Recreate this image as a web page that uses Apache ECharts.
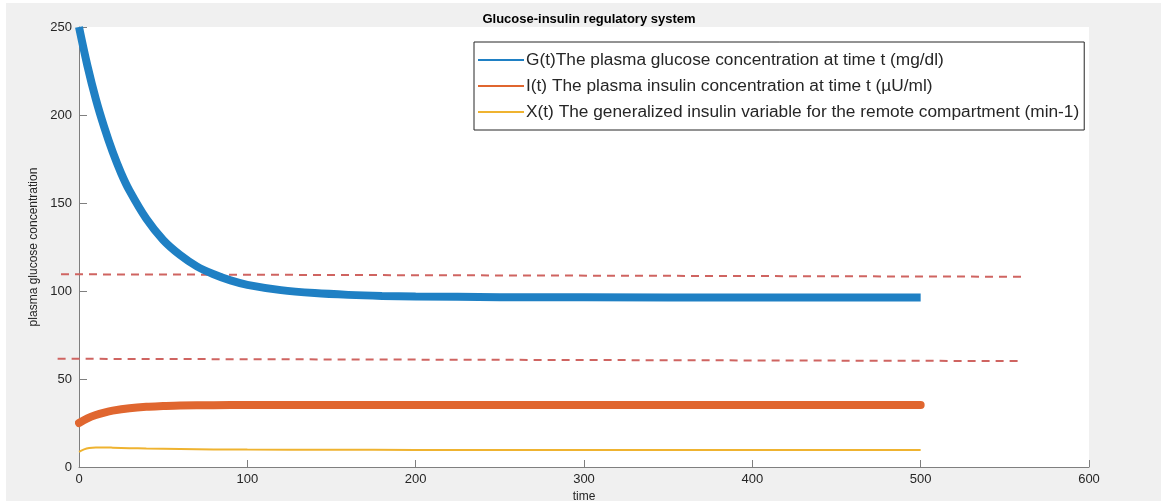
<!DOCTYPE html>
<html>
<head>
<meta charset="utf-8">
<script src="https://cdn.jsdelivr.net/npm/echarts@6/dist/echarts.min.js"></script>
<style>
  html, body { margin: 0; padding: 0; background: #ffffff; }
  #frame { position: absolute; left: 6px; top: 3px; width: 1155px; height: 498px; background: #f0f0f0; }
  #chart { position: absolute; left: -6px; top: -3px; width: 1161px; height: 501px; }
</style>
</head>
<body>
<div id="frame"><div id="chart"></div></div>
<script>
// Simulated glucose-insulin model output (minutes)
const glucoseTime = [0, 5, 10, 15, 20, 25, 30, 40, 50, 60, 70, 80, 90, 100, 120, 140, 160, 180, 200, 250, 300, 400, 500];
const glucose     = [250, 228, 209, 193, 179, 167, 157, 141, 129, 120.5, 114, 109.5, 106, 103.5, 100.5, 98.8, 97.8, 97.2, 96.9, 96.5, 96.4, 96.3, 96.3];

const insulinTime = [0, 5, 10, 15, 20, 30, 40, 50, 60, 80, 100, 150, 200, 300, 400, 500];
const insulin     = [25, 27.6, 29.5, 30.9, 32, 33.4, 34.2, 34.6, 34.9, 35.1, 35.2, 35.2, 35.2, 35.2, 35.2, 35.2];

const remoteTime  = [0, 3, 6, 10, 15, 20, 30, 40, 60, 80, 100, 150, 200, 300, 400, 500];
const remote      = [8.6, 10.0, 10.8, 11.1, 11.1, 11.0, 10.7, 10.5, 10.2, 10.0, 9.9, 9.8, 9.7, 9.6, 9.6, 9.6];

// Dashed guides marking the normal glucose range (they run slightly past the y axis)
const upperGuideX = [-10.7, 560.2];
const upperGuideY = [109.5, 108.1];
const lowerGuideX = [-12.7, 557.9];
const lowerGuideY = [61.5, 60.2];

const xTicks = { min: 0, max: 600, interval: 100 };
const yTicks = { min: 0, max: 250, interval: 50 };
const guideXMin = -13;

const seriesNames = [
  'G(t)The plasma glucose concentration at time t (mg/dl)',
  'I(t) The plasma insulin concentration at time t (\u00b5U/ml)',
  'X(t) The generalized insulin variable for the remote compartment (min-1)'
];

const zip = (xs, ys) => xs.map((x, i) => [x, ys[i]]);

const axisGray = '#7f7f7f';
const textDark = '#262626';
const font = 'Liberation Sans, Arial, Helvetica, sans-serif';

// Plot box in pixels; the guide grid shares the same scale but starts further left
const plot = { left: 79, right: 72, top: 27, bottom: 34, width: 1161 - 79 - 72 };
const pxPerUnit = plot.width / (xTicks.max - xTicks.min);
const guideLeft = plot.left - (xTicks.min - guideXMin) * pxPerUnit;

const chart = echarts.init(document.getElementById('chart'), null, { renderer: 'canvas' });
chart.setOption({
  backgroundColor: 'transparent',
  animation: false,
  title: {
    text: 'Glucose-insulin regulatory system',
    left: 584, top: 8, textAlign: 'center',
    textStyle: { fontFamily: font, fontSize: 13, fontWeight: 'bold', color: '#000000' }
  },
  grid: [
    {
      left: plot.left, right: plot.right, top: plot.top, bottom: plot.bottom,
      containLabel: false, outerBoundsMode: 'none',
      show: true, backgroundColor: '#ffffff', borderWidth: 0
    },
    {
      left: guideLeft, right: plot.right, top: plot.top, bottom: plot.bottom,
      containLabel: false, outerBoundsMode: 'none', show: false
    }
  ],
  legend: {
    data: seriesNames,
    orient: 'vertical',
    left: 474, top: 42,
    padding: [8, 5, 8, 4],
    itemGap: 6,
    itemWidth: 46, itemHeight: 2,
    icon: 'rect',
    backgroundColor: '#ffffff',
    borderColor: '#262626', borderWidth: 1,
    textStyle: { fontFamily: font, fontSize: 17.3, color: textDark, lineHeight: 20, padding: [0, 0, 0, -3] }
  },
  xAxis: [
    {
      gridIndex: 0,
      type: 'value', min: xTicks.min, max: xTicks.max, interval: xTicks.interval,
      name: 'time', nameLocation: 'middle', nameGap: 21,
      nameTextStyle: { fontFamily: font, fontSize: 12, color: textDark },
      axisLine: { show: true, lineStyle: { color: axisGray, width: 1 } },
      axisTick: { show: true, inside: true, length: 7, lineStyle: { color: axisGray } },
      axisLabel: { fontFamily: font, fontSize: 13, color: textDark, margin: 6 },
      splitLine: { show: false }
    },
    {
      gridIndex: 1, type: 'value', min: guideXMin, max: xTicks.max, show: false
    }
  ],
  yAxis: [
    {
      gridIndex: 0,
      type: 'value', min: yTicks.min, max: yTicks.max, interval: yTicks.interval,
      name: 'plasma glucose concentration', nameLocation: 'middle', nameGap: 30,
      nameTextStyle: { fontFamily: font, fontSize: 12, color: textDark },
      axisLine: { show: true, lineStyle: { color: axisGray, width: 1 } },
      axisTick: { show: true, inside: true, length: 8, lineStyle: { color: axisGray } },
      axisLabel: { fontFamily: font, fontSize: 13, color: textDark, margin: 7 },
      splitLine: { show: false }
    },
    {
      gridIndex: 1, type: 'value', min: yTicks.min, max: yTicks.max, show: false
    }
  ],
  series: [
    {
      name: 'upper', type: 'line', xAxisIndex: 1, yAxisIndex: 1,
      data: zip(upperGuideX, upperGuideY),
      showSymbol: false, clip: false, z: 2, silent: true,
      lineStyle: { color: '#cf6461', width: 2, type: [8, 6] }
    },
    {
      name: 'lower', type: 'line', xAxisIndex: 1, yAxisIndex: 1,
      data: zip(lowerGuideX, lowerGuideY),
      showSymbol: false, clip: false, z: 2, silent: true,
      lineStyle: { color: '#cf6461', width: 2, type: [8, 6] }
    },
    {
      name: seriesNames[0], type: 'line', data: zip(glucoseTime, glucose),
      smooth: 0.35, showSymbol: false, clip: false, z: 3,
      color: '#1f80c4',
      lineStyle: { color: '#1f80c4', width: 8, cap: 'butt' }
    },
    {
      name: seriesNames[1], type: 'line', data: zip(insulinTime, insulin),
      smooth: 0.35, showSymbol: false, clip: false, z: 3,
      color: '#e0662f',
      lineStyle: { color: '#e0662f', width: 8, cap: 'round' }
    },
    {
      name: seriesNames[2], type: 'line', data: zip(remoteTime, remote),
      smooth: 0.35, showSymbol: false, clip: false, z: 3,
      color: '#efb330',
      lineStyle: { color: '#efb330', width: 2 }
    }
  ]
});
</script>
</body>
</html>
